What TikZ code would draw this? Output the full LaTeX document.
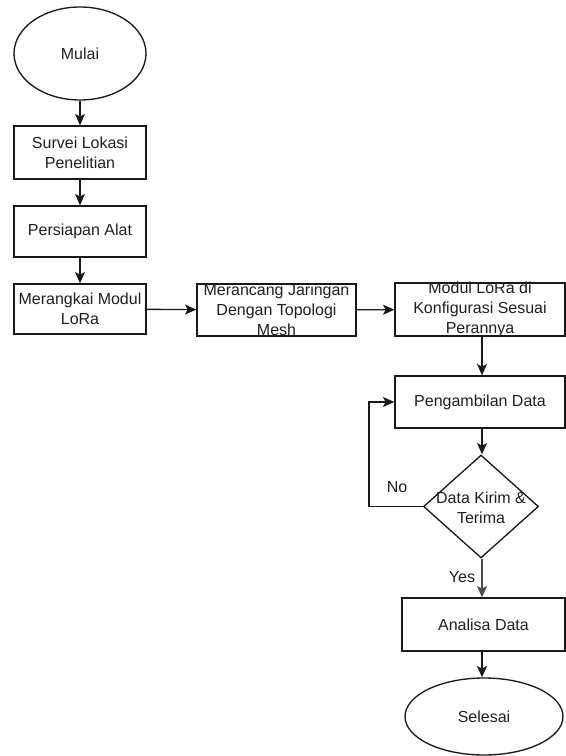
\documentclass[tikz,border=0pt]{standalone}
\usepackage{fontspec}
\setmainfont{Liberation Sans}
\usetikzlibrary{arrows.meta,shapes.geometric}
\begin{document}
\begin{tikzpicture}[x=0.75pt,y=-0.75pt,
  font=\fontsize{12}{15}\selectfont,
  shp/.style={draw=black!90, line width=1pt, inner sep=0pt},
  box/.style={shp, rectangle},
  term/.style={shp, ellipse},
  dec/.style={shp, diamond},
  txt/.style={align=center, text=black!88, inner sep=0pt},
  arr/.style={draw=black!90, line width=1pt, -{Stealth[length=8.5pt,width=7.5pt,inset=2pt]}}
]
\useasboundingbox (0,0) rectangle (566,756);

% shapes
\node[term, minimum width=99pt, minimum height=69.75pt] (mulai) at (80,53.5) {};
\node[box, minimum width=99pt, minimum height=39.75pt] (survei) at (80,152.5) {};
\node[box, minimum width=99pt, minimum height=38.25pt] (persiapan) at (80,231.5) {};
\node[box, minimum width=99pt, minimum height=37.5pt] (merangkai) at (80,309) {};
\node[box, minimum width=119.25pt, minimum height=39pt] (merancang) at (276.5,310) {};
\node[box, minimum width=127.5pt, minimum height=39.75pt] (modul) at (480,309.5) {};
\node[box, minimum width=127.5pt, minimum height=39pt] (peng) at (480,402) {};
\node[dec, minimum width=86.25pt, minimum height=77.25pt] (d) at (481,506.5) {};
\node[box, minimum width=122.25pt, minimum height=39.75pt] (ana) at (483.5,624.5) {};
\node[term, minimum width=118.5pt, minimum height=57.75pt] (selesai) at (484,716.5) {};

% texts
\node[txt] (tmulai) at (mulai) {Mulai};
\node[txt] (tsurvei) at (survei) {Survei Lokasi\\Penelitian};
\node[txt] (tpers) at (persiapan) {Persiapan Alat};
\node[txt] (tmerangkai) at (merangkai) {Merangkai Modul\\LoRa};
\node[txt] (tmerancang) at (merancang) {Merancang Jaringan\\Dengan Topologi\\Mesh};
\node[txt] (tmodul) at (modul) {Modul LoRa di\\Konfigurasi Sesuai\\Perannya};
\node[txt] (tpeng) at (peng) {Pengambilan Data};
\node[txt] (td) at ([yshift=-1pt]d.center) {Data Kirim \&\\Terima};
\node[txt] (tana) at (ana) {Analisa Data};
\node[txt] (tsel) at (selesai) {Selesai};

% connectors
\coordinate (cx) at (482,0);
\draw[arr] (mulai) -- (survei);
\draw[arr] (survei) -- (persiapan);
\draw[arr] (persiapan) -- (merangkai);
\draw[arr] (merangkai) -- (merancang);
\draw[arr] (merancang) -- (modul);
\draw[arr] (modul.south -| cx) -- (peng.north -| cx);
\draw[arr] (peng.south -| cx) -- (d.north -| cx);
\draw[arr] (d.west) -- ++(-54,0) coordinate (lp) |- (peng.west);
\node[txt] (no) at (397,487) {No};
\draw[arr, draw=black!70] (d.south -| cx) -- (ana.north -| cx);
\node[txt, fill=white] (yes) at (462,577) {Yes};
\draw[arr, line width=1.6pt] (ana.south -| cx) -- (selesai.north -| cx);
\end{tikzpicture}
\end{document}
